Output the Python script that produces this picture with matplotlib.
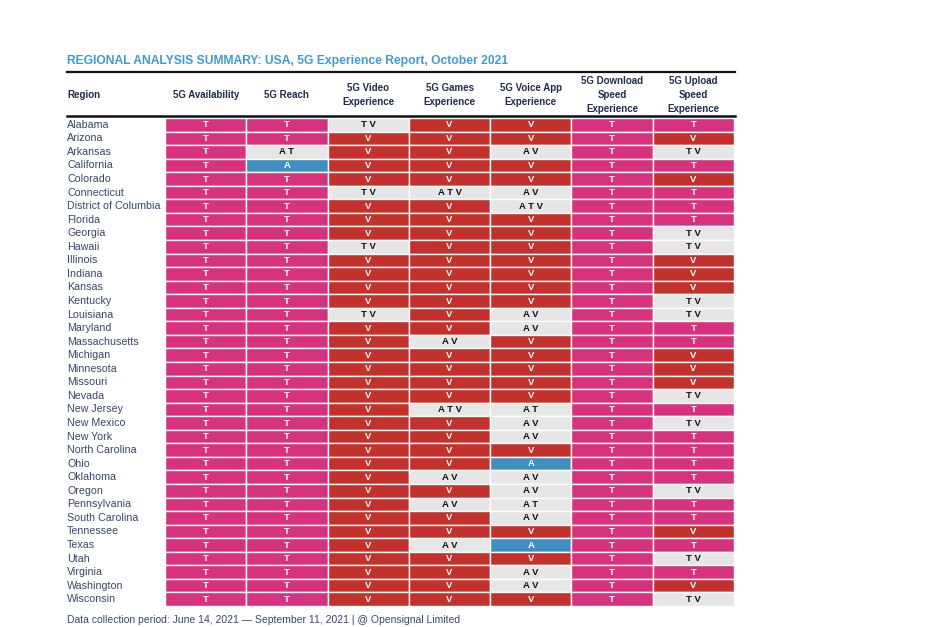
import matplotlib
matplotlib.use("Agg")
import matplotlib.pyplot as plt
import numpy as np

title = "REGIONAL ANALYSIS SUMMARY: USA, 5G Experience Report, October 2021"
footer = "Data collection period: June 14, 2021 \u2014 September 11, 2021 | @ Opensignal Limited"

columns = ["5G Availability", "5G Reach", "5G Video\nExperience", "5G Games\nExperience",
           "5G Voice App\nExperience", "5G Download\nSpeed\nExperience", "5G Upload\nSpeed\nExperience"]

regions = ["Alabama", "Arizona", "Arkansas", "California", "Colorado", "Connecticut",
           "District of Columbia", "Florida", "Georgia", "Hawaii", "Illinois", "Indiana",
           "Kansas", "Kentucky", "Louisiana", "Maryland", "Massachusetts", "Michigan",
           "Minnesota", "Missouri", "Nevada", "New Jersey", "New Mexico", "New York",
           "North Carolina", "Ohio", "Oklahoma", "Oregon", "Pennsylvania", "South Carolina",
           "Tennessee", "Texas", "Utah", "Virginia", "Washington", "Wisconsin"]

availability = ["T"] * 36
reach = ["T", "T", "AT", "A", "T", "T", "T", "T", "T", "T", "T", "T",
         "T", "T", "T", "T", "T", "T", "T", "T", "T", "T", "T", "T",
         "T", "T", "T", "T", "T", "T", "T", "T", "T", "T", "T", "T"]
video = ["TV", "V", "V", "V", "V", "TV", "V", "V", "V", "TV", "V", "V",
         "V", "V", "TV", "V", "V", "V", "V", "V", "V", "V", "V", "V",
         "V", "V", "V", "V", "V", "V", "V", "V", "V", "V", "V", "V"]
games = ["V", "V", "V", "V", "V", "ATV", "V", "V", "V", "V", "V", "V",
         "V", "V", "V", "V", "AV", "V", "V", "V", "V", "ATV", "V", "V",
         "V", "V", "AV", "V", "AV", "V", "V", "AV", "V", "V", "V", "V"]
voice = ["V", "V", "AV", "V", "V", "AV", "ATV", "V", "V", "V", "V", "V",
         "V", "V", "AV", "AV", "V", "V", "V", "V", "V", "AT", "AV", "AV",
         "V", "A", "AV", "AV", "AT", "AV", "V", "A", "V", "AV", "AV", "V"]
download = ["T"] * 36
upload = ["T", "V", "TV", "T", "V", "T", "T", "T", "TV", "TV", "V", "V",
          "V", "TV", "TV", "T", "T", "V", "V", "V", "TV", "T", "TV", "T",
          "T", "T", "T", "TV", "T", "T", "V", "T", "TV", "T", "V", "TV"]

data = [availability, reach, video, games, voice, download, upload]

winner_colors = {"T": "#D6327E", "V": "#C2312B", "A": "#3F8FC0"}
shared_color = "#E6E6E6"
navy = "#1F2D4A"
label_color = "#34476B"

fig = plt.figure(figsize=(9.4, 6.27), dpi=100)
ax = fig.add_axes([165 / 940, 1 - 606 / 627, 569 / 940, 488 / 627])
ax.set_xlim(0, len(columns))
ax.set_ylim(len(regions), 0)
ax.axis("off")

ypos = np.arange(len(regions)) + 0.5
for ci, col in enumerate(data):
    cols = [winner_colors[v] if len(v) == 1 else shared_color for v in col]
    ax.barh(ypos, 1, left=ci, height=1, color=cols, edgecolor="white", linewidth=1.0)
    for ri, v in enumerate(col):
        single = len(v) == 1
        ax.text(ci + 0.5, ypos[ri], " ".join(v), ha="center", va="center",
                fontsize=6.8, fontweight="bold", family="Liberation Sans",
                color="white" if single else "#111111")

# region labels
fig_tr = fig.transFigure
for ri, name in enumerate(regions):
    x_fig = 67 / 940
    y_disp = ax.transData.transform((0, ypos[ri]))[1]
    y_fig = fig_tr.inverted().transform((0, y_disp))[1]
    fig.text(x_fig, y_fig, name, ha="left", va="center", fontsize=7.7,
             family="Liberation Sans", color=label_color)

# headers
hy = 1 - 95 / 627
fig.text(67 / 940, hy, "Region", ha="left", va="center", fontsize=7,
         fontweight="bold", family="Liberation Sans", color=navy)
for ci, h in enumerate(columns):
    xd = ax.transData.transform((ci + 0.5, 0))[0]
    fig.text(xd / 940, hy, h, ha="center", va="center", fontsize=7,
             fontweight="bold", family="Liberation Sans", color=navy,
             linespacing=1.45)

# rules
fig.add_artist(plt.Line2D([67 / 940, 735 / 940], [1 - 72 / 627] * 2, color="#111111", lw=1.6))
fig.add_artist(plt.Line2D([67 / 940, 735 / 940], [1 - 116 / 627] * 2, color="#111111", lw=1.8))

fig.text(67 / 940, 1 - 61 / 627, title, ha="left", va="center", fontsize=8.7,
         fontweight="bold", family="Liberation Sans", color="#3E9BD0")
fig.text(67 / 940, 1 - 620 / 627, footer, ha="left", va="center", fontsize=7.5,
         family="Liberation Sans", color=label_color)

fig.savefig("out.png", dpi=100, facecolor="white")
